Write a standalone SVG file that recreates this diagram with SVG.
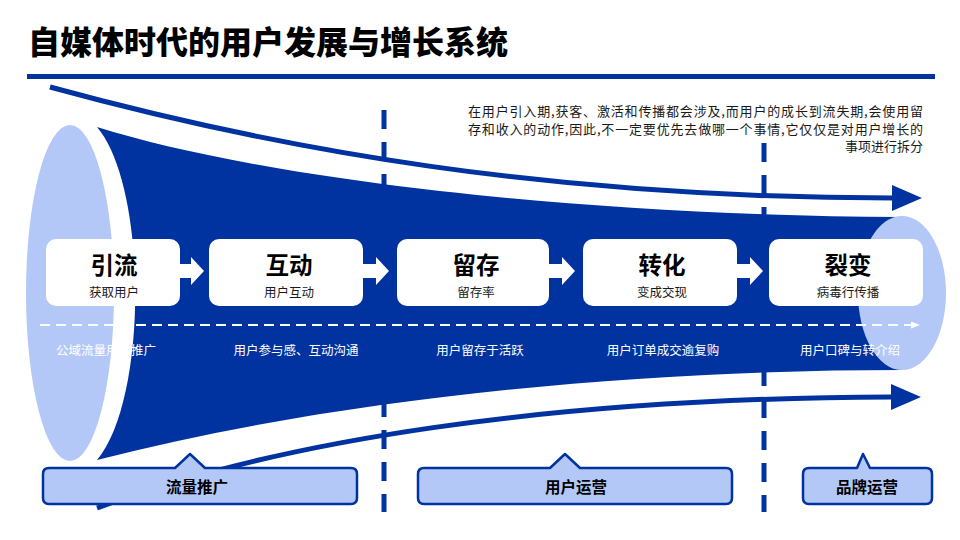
<svg xmlns="http://www.w3.org/2000/svg" width="960" height="540" viewBox="0 0 960 540">
  <style>
    .cjk { font-family: "Noto Sans CJK SC", "Noto Sans", sans-serif; }
    .title { font-size: 32px; font-weight: 900; fill: #000; }
    .para { font-size: 13px; fill: #1a1a1a; }
    .boxTitle { font-size: 23.5px; font-weight: 700; fill: #000; text-anchor: middle; }
    .boxSub { font-size: 12.5px; fill: #1a1a1a; text-anchor: middle; }
    .lbl { font-size: 12.5px; fill: #fff; text-anchor: middle; }
    .callTxt { font-size: 15.5px; font-weight: 700; fill: #000; text-anchor: middle; }
    .box { fill: #fff; }
    .barrow { fill: #fff; }
    .vdash { stroke: #0033A0; stroke-width: 5; stroke-dasharray: 19 13; fill: none; }
    .flow { stroke: #0033A0; stroke-width: 5; fill: none; }
    .call { fill: #B4C8F8; stroke: #0033A0; stroke-width: 2.5; stroke-linejoin: round; }
  </style>
  <defs>
    <marker id="bigArrow" viewBox="0 0 30 26" refX="1" refY="13" markerWidth="30" markerHeight="26" markerUnits="userSpaceOnUse" orient="auto">
      <path d="M0,0 L30,13 L0,26 Z" fill="#0033A0"/>
    </marker>
    <marker id="smallArrow" viewBox="0 0 10 10" refX="9" refY="5" markerWidth="9" markerHeight="9" markerUnits="userSpaceOnUse" orient="auto">
      <path d="M0,1 L10,5 L0,9 Z" fill="#fff"/>
    </marker>
  </defs>

  <!-- title -->
  <text class="cjk title" x="28" y="54" textLength="480" lengthAdjust="spacingAndGlyphs">自媒体时代的用户发展与增长系统</text>
  <rect x="27" y="74" width="908" height="5" fill="#0033A0"/>

  <!-- explanation -->
  <g id="note" class="cjk para" text-anchor="end">
    <text x="923" y="116" textLength="455" lengthAdjust="spacing">在用户引入期,获客、激活和传播都会涉及,而用户的成长到流失期,会使用留</text>
    <text x="923" y="133.5" textLength="455" lengthAdjust="spacing">存和收入的动作,因此,不一定要优先去做哪一个事情,它仅仅是对用户增长的</text>
    <text x="923" y="151">事项进行拆分</text>
  </g>

  <!-- connectors -->
  <g id="connectors">
    <line class="vdash" x1="384" y1="110" x2="384" y2="512"/>
    <line class="vdash" x1="764" y1="143" x2="764" y2="512"/>
    <path class="flow" d="M50,87 C280,150 550,198 893,198" marker-end="url(#bigArrow)"/>
    <path class="flow" d="M97,508 C280,440 550,398 892,397" marker-end="url(#bigArrow)"/>
  </g>

  <!-- funnel -->
  <g id="funnel">
    <path d="M97,127 C250,175 550,215 902,217 L902,370 C650,370 350,395 97,460 C148,400 148,187 97,127 Z" fill="#0033A0"/>
    <ellipse cx="70" cy="293" rx="44" ry="168" fill="#B4C8F8"/>
    <ellipse cx="902" cy="293" rx="44" ry="77" fill="#B4C8F8"/>
    <line x1="40" y1="325" x2="919" y2="325" stroke="#fff" stroke-width="2" stroke-dasharray="10 6" marker-end="url(#smallArrow)"/>
  </g>

  <!-- stage nodes -->
  <g id="stage-yinliu">
    <rect class="box" x="46" y="239" width="134" height="67" rx="10"/>
    <text class="cjk boxTitle" x="114" y="274">引流</text>
    <text class="cjk boxSub" x="114" y="297">获取用户</text>
  </g>
  <g id="stage-hudong">
    <rect class="box" x="209" y="239" width="154" height="67" rx="10"/>
    <text class="cjk boxTitle" x="289" y="274">互动</text>
    <text class="cjk boxSub" x="289" y="297">用户互动</text>
  </g>
  <g id="stage-liucun">
    <rect class="box" x="397" y="239" width="152" height="67" rx="10"/>
    <text class="cjk boxTitle" x="476" y="274">留存</text>
    <text class="cjk boxSub" x="476" y="297">留存率</text>
  </g>
  <g id="stage-zhuanhua">
    <rect class="box" x="583" y="239" width="154" height="67" rx="10"/>
    <text class="cjk boxTitle" x="662" y="274">转化</text>
    <text class="cjk boxSub" x="662" y="297">变成交现</text>
  </g>
  <g id="stage-liebian">
    <rect class="box" x="769" y="239" width="154" height="67" rx="10"/>
    <text class="cjk boxTitle" x="848" y="274">裂变</text>
    <text class="cjk boxSub" x="848" y="297">病毒行传播</text>
  </g>

  <!-- block arrows between stages -->
  <g id="stage-arrows" class="barrow">
    <polygon points="180,264 191,264 191,257 204,271 191,285 191,278 180,278"/>
    <polygon points="363,264 376,264 376,257 389,271 376,285 376,278 363,278"/>
    <polygon points="549,264 562,264 562,257 575,271 562,285 562,278 549,278"/>
    <polygon points="737,264 750,264 750,257 763,271 750,285 750,278 737,278"/>
  </g>

  <!-- white descriptions -->
  <g id="descriptions" class="cjk lbl">
    <text x="106" y="355">公域流量用户推广</text>
    <text x="296" y="355">用户参与感、互动沟通</text>
    <text x="480" y="355">用户留存于活跃</text>
    <text x="663" y="355">用户订单成交逾复购</text>
    <text x="850" y="355">用户口碑与转介绍</text>
  </g>

  <!-- callouts -->
  <g id="callout-liuliang">
    <path class="call" d="M49,468 H175 L190,454 L205,468 H351 Q357,468 357,474 V498 Q357,504 351,504 H49 Q43,504 43,498 V474 Q43,468 49,468 Z"/>
    <text class="cjk callTxt" x="197" y="493">流量推广</text>
  </g>
  <g id="callout-yonghu">
    <path class="call" d="M424,468 H550 L565,454 L580,468 H726 Q732,468 732,474 V498 Q732,504 726,504 H424 Q418,504 418,498 V474 Q418,468 424,468 Z"/>
    <text class="cjk callTxt" x="576" y="493">用户运营</text>
  </g>
  <g id="callout-pinpai">
    <path class="call" d="M809,468 H857 L863,454 L870,468 H926 Q932,468 932,474 V498 Q932,504 926,504 H809 Q803,504 803,498 V474 Q803,468 809,468 Z"/>
    <text class="cjk callTxt" x="867" y="493">品牌运营</text>
  </g>
</svg>
